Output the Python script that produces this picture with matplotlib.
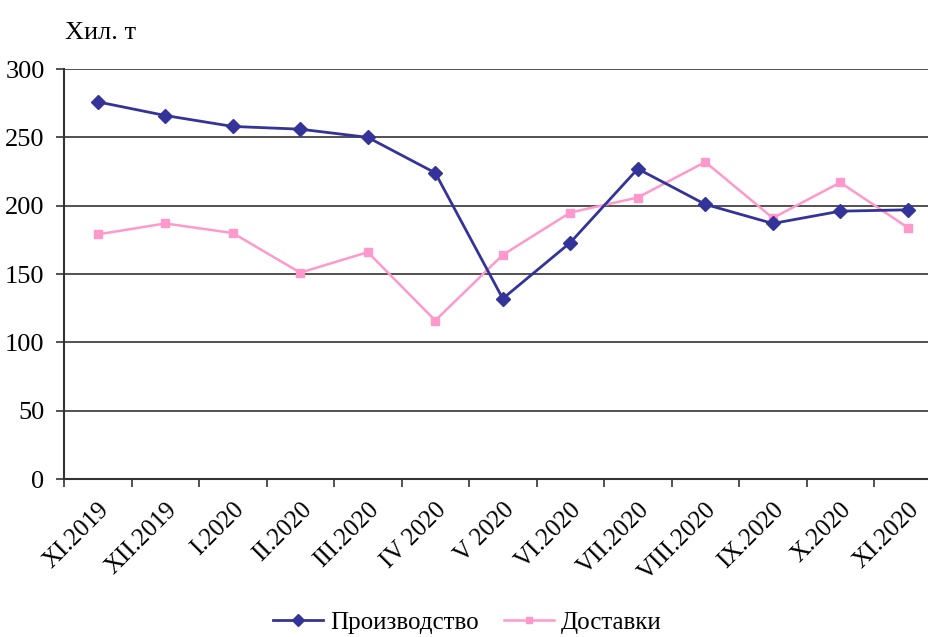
import matplotlib
matplotlib.use('Agg')
import matplotlib.pyplot as plt
from matplotlib.lines import Line2D

plt.rcParams['font.family'] = ['Liberation Serif', 'DejaVu Serif']

# data
months = ['XI.2019', 'XII.2019', 'I.2020', 'II.2020', 'III.2020', 'IV 2020', 'V 2020',
          'VI.2020', 'VII.2020', 'VIII.2020', 'IX.2020', 'X.2020', 'XI.2020']
production = [276, 266, 258, 256, 250, 224, 132, 173, 227, 201, 187, 196, 197]
deliveries = [179, 187, 180, 151, 166, 116, 164, 195, 206, 232, 191, 217, 184]

navy = '#333399'
pink = '#FF99CC'

fig = plt.figure(figsize=(9.29, 6.37), dpi=100)
ax = fig.add_axes([0.0689, 0.248, 0.9446, 0.6436])

x = [i + 0.5 for i in range(len(months))]
ax.plot(x, production, color=navy, lw=2, marker='D', ms=7, zorder=3)
ax.plot(x, deliveries, color=pink, lw=1.8, marker='s', ms=6, zorder=2)

ax.set_xlim(0, len(months))
ax.set_ylim(0, 300)
ax.set_yticks(range(0, 301, 50))
ax.yaxis.grid(True, color='#333333', lw=1.2)
ax.set_axisbelow(True)

# category boundaries get the tick marks, labels sit in the middle
ax.set_xticks(range(len(months) + 1))
ax.set_xticklabels([])
ax.set_xticks(x, minor=True)
ax.set_xticklabels(months, minor=True, rotation=45, ha='right', va='top',
                   rotation_mode='anchor', fontsize=18)
ax.tick_params(axis='x', which='minor', length=0, pad=14)
ax.tick_params(axis='x', which='major', length=6, width=1.2, color='#333333')
ax.tick_params(axis='y', length=6, width=1.2, color='#333333', labelsize=19, pad=8)

for side in ['top', 'right']:
    ax.spines[side].set_visible(False)
for side in ['left', 'bottom']:
    ax.spines[side].set_color('#333333')
    ax.spines[side].set_linewidth(1.5)

fig.text(0.07, 0.965, 'Хил. т', fontsize=19, va='top', ha='left')

legend_elements = [Line2D([0], [0], color=navy, lw=2, marker='D', ms=6, label='Производство'),
                   Line2D([0], [0], color=pink, lw=1.8, marker='s', ms=5, label='Доставки')]
fig.legend(handles=legend_elements, loc='center', bbox_to_anchor=(0.503, 0.023),
           ncol=2, frameon=False, fontsize=18, handlelength=2.0, handletextpad=0.3,
           columnspacing=1.0)

fig.savefig('out.png', dpi=100)
